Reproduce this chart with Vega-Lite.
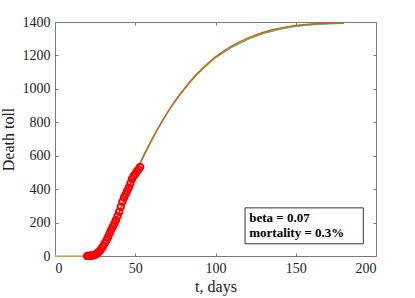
{
  "$schema": "https://vega.github.io/schema/vega-lite/v6.json",
  "width": 321,
  "height": 234,
  "autosize": "none",
  "padding": {"left": 55, "top": 22, "right": 39, "bottom": 42},
  "background": "white",
  "resolve": {"axis": {"x": "independent", "y": "independent"}},
  "config": {
    "view": {"stroke": null},
    "font": "Liberation Serif",
    "axis": {
      "grid": false,
      "domainColor": "#7a7a7a",
      "tickColor": "#7a7a7a",
      "tickSize": -3,
      "format": "d",
      "labelFont": "Liberation Serif",
      "labelFontSize": 14,
      "labelColor": "#222",
      "titleFont": "Liberation Serif",
      "titleFontSize": 16,
      "titleFontWeight": "normal",
      "titleColor": "#222"
    }
  },
  "datasets": {
    "model": [
      {"t": 0, "v": 0, "s": "orange"}, {"t": 20, "v": 0, "s": "orange"}, {"t": 21, "v": 1, "s": "orange"}, {"t": 22, "v": 2, "s": "orange"}, {"t": 24, "v": 6, "s": "orange"}, {"t": 26, "v": 14, "s": "orange"}, {"t": 28, "v": 30, "s": "orange"}, {"t": 30, "v": 55, "s": "orange"}, {"t": 32, "v": 90, "s": "orange"}, {"t": 34, "v": 130, "s": "orange"}, {"t": 36, "v": 172, "s": "orange"}, {"t": 38, "v": 215, "s": "orange"}, {"t": 40, "v": 262, "s": "orange"}, {"t": 42, "v": 310, "s": "orange"}, {"t": 44, "v": 358, "s": "orange"}, {"t": 46, "v": 405, "s": "orange"}, {"t": 48, "v": 450, "s": "orange"}, {"t": 50, "v": 494, "s": "orange"}, {"t": 52, "v": 536, "s": "orange"}, {"t": 54, "v": 577, "s": "orange"}, {"t": 56, "v": 617, "s": "orange"}, {"t": 58, "v": 655, "s": "orange"}, {"t": 60, "v": 692, "s": "orange"}, {"t": 62, "v": 728, "s": "orange"}, {"t": 64, "v": 763, "s": "orange"}, {"t": 66, "v": 797, "s": "orange"}, {"t": 68, "v": 829, "s": "orange"}, {"t": 70, "v": 860, "s": "orange"}, {"t": 72, "v": 890, "s": "orange"}, {"t": 74, "v": 918, "s": "orange"}, {"t": 76, "v": 945, "s": "orange"}, {"t": 78, "v": 971, "s": "orange"}, {"t": 80, "v": 996, "s": "orange"}, {"t": 82, "v": 1020, "s": "orange"}, {"t": 84, "v": 1043, "s": "orange"}, {"t": 86, "v": 1065, "s": "orange"}, {"t": 88, "v": 1086, "s": "orange"}, {"t": 90, "v": 1106, "s": "orange"}, {"t": 93, "v": 1134, "s": "orange"}, {"t": 96, "v": 1160, "s": "orange"}, {"t": 100, "v": 1192, "s": "orange"}, {"t": 105, "v": 1226, "s": "orange"}, {"t": 110, "v": 1256, "s": "orange"}, {"t": 115, "v": 1282, "s": "orange"}, {"t": 120, "v": 1304, "s": "orange"}, {"t": 125, "v": 1323, "s": "orange"}, {"t": 130, "v": 1339, "s": "orange"}, {"t": 135, "v": 1353, "s": "orange"}, {"t": 140, "v": 1364, "s": "orange"}, {"t": 145, "v": 1373, "s": "orange"}, {"t": 150, "v": 1380, "s": "orange"}, {"t": 155, "v": 1385, "s": "orange"}, {"t": 160, "v": 1389, "s": "orange"}, {"t": 165, "v": 1391, "s": "orange"}, {"t": 170, "v": 1393, "s": "orange"}, {"t": 175, "v": 1394, "s": "orange"}, {"t": 180, "v": 1395, "s": "orange"},
      {"t": 20, "v": 0, "s": "green"}, {"t": 24, "v": 5, "s": "green"}, {"t": 28, "v": 27, "s": "green"}, {"t": 32, "v": 86, "s": "green"}, {"t": 36, "v": 167, "s": "green"}, {"t": 40, "v": 256, "s": "green"}, {"t": 44, "v": 352, "s": "green"}, {"t": 48, "v": 444, "s": "green"}, {"t": 52, "v": 530, "s": "green"}, {"t": 56, "v": 611, "s": "green"}, {"t": 60, "v": 686, "s": "green"}, {"t": 64, "v": 757, "s": "green"}, {"t": 68, "v": 823, "s": "green"}, {"t": 72, "v": 884, "s": "green"}, {"t": 76, "v": 939, "s": "green"}, {"t": 80, "v": 990, "s": "green"}, {"t": 84, "v": 1037, "s": "green"}, {"t": 88, "v": 1080, "s": "green"}, {"t": 93, "v": 1128, "s": "green"}, {"t": 100, "v": 1186, "s": "green"}, {"t": 110, "v": 1250, "s": "green"}, {"t": 120, "v": 1298, "s": "green"}, {"t": 130, "v": 1334, "s": "green"}, {"t": 140, "v": 1359, "s": "green"}, {"t": 150, "v": 1376, "s": "green"}, {"t": 160, "v": 1386, "s": "green"}, {"t": 170, "v": 1391, "s": "green"}, {"t": 180, "v": 1393, "s": "green"},
      {"t": 100, "v": 1186, "s": "blue"}, {"t": 110, "v": 1248, "s": "blue"}, {"t": 120, "v": 1295, "s": "blue"}, {"t": 130, "v": 1331, "s": "blue"}, {"t": 140, "v": 1356, "s": "blue"}, {"t": 150, "v": 1373, "s": "blue"}, {"t": 160, "v": 1383, "s": "blue"}, {"t": 170, "v": 1389, "s": "blue"}, {"t": 180, "v": 1392, "s": "blue"},
      {"t": 0, "v": 0, "s": "yellow"}, {"t": 20, "v": 0, "s": "yellow"}
    ],
    "obs": [
      {"t": 20, "v": 0}, {"t": 21, "v": 1}, {"t": 22, "v": 2}, {"t": 23, "v": 3}, {"t": 24, "v": 5}, {"t": 25, "v": 8}, {"t": 26, "v": 14}, {"t": 27, "v": 22}, {"t": 28, "v": 32}, {"t": 29, "v": 45}, {"t": 30, "v": 60}, {"t": 31, "v": 76}, {"t": 32, "v": 93}, {"t": 33, "v": 112}, {"t": 34, "v": 135}, {"t": 35, "v": 155}, {"t": 36, "v": 175}, {"t": 37, "v": 195}, {"t": 38, "v": 215}, {"t": 39, "v": 240}, {"t": 40, "v": 265}, {"t": 41, "v": 295}, {"t": 42, "v": 325}, {"t": 43, "v": 350}, {"t": 44, "v": 370}, {"t": 45, "v": 390}, {"t": 46, "v": 410}, {"t": 47, "v": 435}, {"t": 48, "v": 460}, {"t": 49, "v": 478}, {"t": 50, "v": 490}, {"t": 51, "v": 505}, {"t": 52, "v": 518}, {"t": 53, "v": 532}
    ],
    "box": [{"x1": 118.4, "x2": 192.1, "y1": 73, "y2": 288}],
    "notes": [
      {"t": 121, "v": 202, "label": "beta = 0.07"},
      {"t": 121, "v": 114, "label": "mortality = 0.3%"}
    ]
  },
  "layer": [
    {
      "data": {"name": "model"},
      "transform": [{"filter": "datum.s === 'blue'"}],
      "mark": {"type": "line", "color": "#4DBEEE", "strokeWidth": 1.2},
      "encoding": {
        "x": {"field": "t", "type": "quantitative", "scale": {"domain": [0, 200], "nice": false}, "axis": {"orient": "bottom", "title": "t, days", "values": [0, 50, 100, 150, 200], "labelPadding": 8, "titlePadding": 3}},
        "y": {"field": "v", "type": "quantitative", "scale": {"domain": [0, 1400], "nice": false}, "axis": {"orient": "left", "title": "Death toll", "values": [0, 200, 400, 600, 800, 1000, 1200, 1400], "labelPadding": 8, "titlePadding": 6}}
      }
    },
    {
      "data": {"name": "model"},
      "transform": [{"filter": "datum.s === 'yellow'"}],
      "mark": {"type": "line", "color": "#D9B46A", "strokeWidth": 1.3},
      "encoding": {
        "x": {"field": "t", "type": "quantitative", "axis": {"orient": "top", "title": null, "labels": false, "values": [0, 50, 100, 150, 200]}},
        "y": {"field": "v", "type": "quantitative", "axis": {"orient": "right", "title": null, "labels": false, "values": [0, 200, 400, 600, 800, 1000, 1200, 1400]}}
      }
    },
    {
      "data": {"name": "model"},
      "transform": [{"filter": "datum.s === 'green'"}],
      "mark": {"type": "line", "color": "#77AC30", "strokeWidth": 1.3},
      "encoding": {
        "x": {"field": "t", "type": "quantitative", "axis": null},
        "y": {"field": "v", "type": "quantitative", "axis": null}
      }
    },
    {
      "data": {"name": "model"},
      "transform": [{"filter": "datum.s === 'orange' && datum.t >= 20"}],
      "mark": {"type": "line", "color": "#D95319", "strokeWidth": 1.2},
      "encoding": {
        "x": {"field": "t", "type": "quantitative", "axis": null},
        "y": {"field": "v", "type": "quantitative", "axis": null}
      }
    },
    {
      "data": {"name": "obs"},
      "mark": {"type": "point", "filled": false, "color": "#FF0000", "strokeWidth": 2, "size": 42, "opacity": 1},
      "encoding": {
        "x": {"field": "t", "type": "quantitative", "axis": null},
        "y": {"field": "v", "type": "quantitative", "axis": null}
      }
    },
    {
      "data": {"name": "box"},
      "mark": {"type": "rect", "fill": "white", "stroke": "#333333", "strokeWidth": 1},
      "encoding": {
        "x": {"field": "x1", "type": "quantitative", "axis": null},
        "x2": {"field": "x2"},
        "y": {"field": "y1", "type": "quantitative", "axis": null},
        "y2": {"field": "y2"}
      }
    },
    {
      "data": {"name": "notes"},
      "mark": {"type": "text", "align": "left", "baseline": "alphabetic", "font": "Liberation Serif", "fontSize": 13, "fontWeight": "bold", "color": "#000"},
      "encoding": {
        "x": {"field": "t", "type": "quantitative", "axis": null},
        "y": {"field": "v", "type": "quantitative", "axis": null},
        "text": {"field": "label"}
      }
    }
  ]
}
